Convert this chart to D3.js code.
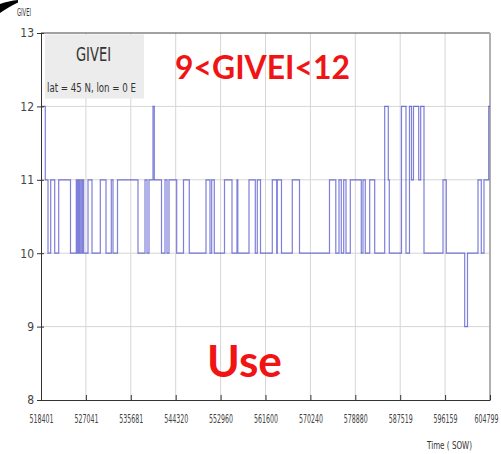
<!DOCTYPE html>
<html>
<head>
<meta charset="utf-8">
<script src="https://cdn.jsdelivr.net/npm/d3@7"></script>
<style>
  html, body { margin: 0; padding: 0; background: #fff; }
  svg { display: block; }
  .narrow { font-family: "Liberation Sans Narrow", "Arial Narrow", "DejaVu Sans Condensed", sans-serif; }
</style>
</head>
<body>
<svg id="chart" width="501" height="454"></svg>
<script>
// GIVEI time series at lat = 45 N, lon = 0 E (one GPS week, seconds of week)
const startTime = 518401;
const endTime = 604799;
const startValue = 12;

// Epochs where GIVEI changes, and the new value from that epoch on
const changeTimes = [
  519228, 519748, 520267, 521037, 521807, 524077, 525193, 525424, 525655, 525848,
  526098, 526348, 526483, 526617, 527445, 528214, 529812, 530908, 531928, 532255,
  533121, 537066, 538413, 538798, 539182, 539952, 540202, 541588, 542261, 542646,
  543031, 544512, 545821, 546937, 550150, 550920, 551247, 551747, 553710, 555153,
  556115, 556269, 558424, 559637, 560021, 560637, 562908, 563754, 563870, 564678,
  566756, 568142, 573914, 575126, 575742, 576185, 576647, 577089, 577917, 580033,
  580360, 580803, 581649, 582612, 584536, 585228, 585421, 587768, 588634, 589308,
  589693, 590077, 591078, 591463, 592098, 595754, 596389, 599929, 600468, 602489,
  603124, 603643, 604547
];
const changeValues = [
  11, 10, 11, 10, 11, 10, 11, 10, 11, 10,
  11, 10, 11, 10, 11, 10, 11, 10, 11, 10,
  11, 10, 11, 10, 11, 12, 11, 10, 11, 10,
  11, 10, 11, 10, 11, 10, 11, 10, 11, 10,
  11, 10, 11, 10, 11, 10, 11, 10, 11, 10,
  11, 10, 11, 10, 11, 10, 11, 10, 11, 10,
  11, 10, 11, 10, 12, 11, 10, 12, 10, 12,
  11, 12, 11, 12, 10, 11, 10, 9, 10, 11,
  10, 11, 12
];

const xTicks = [518401, 527041, 535681, 544320, 552960, 561600, 570240, 578880, 587519, 596159, 604799];
const yTicks = [8, 9, 10, 11, 12, 13];

const yTitle = "GIVEI";
const xTitle = "Time ( SOW)";
const legendTitle = "GIVEI";
const legendSub = "lat = 45 N, lon = 0 E";
const noteRange = "9<GIVEI<12";
const noteUse = "Use";

// Build the step series
const series = [{ t: startTime, v: startValue }];
changeTimes.forEach((t, i) => series.push({ t, v: changeValues[i] }));
series.push({ t: endTime, v: changeValues[changeValues.length - 1] });

const svg = d3.select("#chart");
const plot = { left: 41, right: 490, top: 33, bottom: 400 };

const x = d3.scaleLinear().domain([startTime, endTime]).range([plot.left, plot.right]);
const y = d3.scaleLinear().domain([8, 13]).range([plot.bottom, plot.top]);

// Decorative brush stroke in the corner
svg.append("path")
  .attr("d", "M0,4 C6,2 12,0.5 18,0 L18,2.5 C12,5 6,9 0,13 Z")
  .attr("fill", "#000");

// Grid
svg.append("g").selectAll("line").data(xTicks.slice(1, -1)).join("line")
  .attr("x1", d => x(d)).attr("x2", d => x(d))
  .attr("y1", plot.top).attr("y2", plot.bottom)
  .attr("stroke", "#d6d6d6").attr("stroke-width", 1);
svg.append("g").selectAll("line").data(yTicks.slice(1, -1)).join("line")
  .attr("x1", plot.left).attr("x2", plot.right)
  .attr("y1", d => y(d)).attr("y2", d => y(d))
  .attr("stroke", "#d6d6d6").attr("stroke-width", 1);

// Frame: top line and right edge
svg.append("line").attr("x1", plot.left).attr("x2", plot.right)
  .attr("y1", plot.top).attr("y2", plot.top)
  .attr("stroke", "#444").attr("stroke-width", 1);
svg.append("line").attr("x1", plot.right).attr("x2", plot.right)
  .attr("y1", plot.top).attr("y2", plot.bottom)
  .attr("stroke", "#b0b0b0").attr("stroke-width", 2);

// Legend box
const lg = svg.append("g");
lg.append("rect").attr("x", 45).attr("y", 34.5).attr("width", 99).attr("height", 64)
  .attr("fill", "#ececec");
lg.append("text").attr("class", "narrow").attr("x", 76).attr("y", 61)
  .attr("font-size", 19).attr("fill", "#333")
  .attr("textLength", 35).attr("lengthAdjust", "spacingAndGlyphs")
  .text(legendTitle);
lg.append("text").attr("class", "narrow").attr("x", 47).attr("y", 92)
  .attr("font-size", 12.5).attr("fill", "#333")
  .attr("textLength", 89).attr("lengthAdjust", "spacingAndGlyphs")
  .text(legendSub);

// Step line
const line = d3.line()
  .x(d => x(d.t))
  .y(d => y(d.v))
  .curve(d3.curveStepAfter);
svg.append("path")
  .datum(series)
  .attr("d", line)
  .attr("fill", "none")
  .attr("stroke", "#2a2ac4")
  .attr("stroke-opacity", 0.6)
  .attr("stroke-width", 1.2);

// Axes
const xAxis = d3.axisBottom(x).tickValues(xTicks).tickFormat(d3.format("d"))
  .tickSizeInner(-5).tickSizeOuter(0).tickPadding(14);
const gx = svg.append("g").attr("transform", `translate(0,${plot.bottom})`).call(xAxis);
gx.select(".domain").attr("stroke", "#333");
gx.selectAll(".tick line").attr("stroke", "#333");
gx.selectAll(".tick text")
  .attr("class", "narrow").attr("font-size", 12).attr("fill", "#444")
  .attr("textLength", 24).attr("lengthAdjust", "spacingAndGlyphs");
// keep the last label inside the canvas
gx.selectAll(".tick text").filter(d => d === endTime)
  .attr("text-anchor", "end").attr("x", 8);

const yAxis = d3.axisLeft(y).tickValues(yTicks).tickFormat(d3.format("d"))
  .tickSizeInner(4).tickSizeOuter(0).tickPadding(3);
const gy = svg.append("g").attr("transform", `translate(${plot.left},0)`).call(yAxis);
gy.select(".domain").attr("stroke", "#333");
gy.selectAll(".tick line").attr("stroke", "#333").attr("x2", 3).attr("x1", -4);
gy.selectAll(".tick text")
  .attr("class", "narrow").attr("font-size", 12).attr("fill", "#444");

// Axis titles
svg.append("text").attr("class", "narrow").attr("x", 17).attr("y", 16)
  .attr("font-size", 10).attr("fill", "#333")
  .attr("textLength", 14).attr("lengthAdjust", "spacingAndGlyphs")
  .text(yTitle);
svg.append("text").attr("class", "narrow").attr("x", 427).attr("y", 449)
  .attr("font-size", 10).attr("fill", "#333")
  .attr("textLength", 45).attr("lengthAdjust", "spacingAndGlyphs")
  .text(xTitle);

// Annotations
svg.append("text").attr("x", 175).attr("y", 79)
  .attr("font-family", "Lato, 'Open Sans', sans-serif").attr("font-weight", "bold")
  .attr("font-size", 33).attr("fill", "#f01414")
  .attr("textLength", 175).attr("lengthAdjust", "spacingAndGlyphs")
  .text(noteRange);
svg.append("text").attr("x", 207).attr("y", 377)
  .attr("font-family", "Lato, 'Open Sans', sans-serif").attr("font-weight", "bold")
  .attr("font-size", 44).attr("fill", "#f01414")
  .attr("textLength", 75).attr("lengthAdjust", "spacingAndGlyphs")
  .text(noteUse);
</script>
</body>
</html>
